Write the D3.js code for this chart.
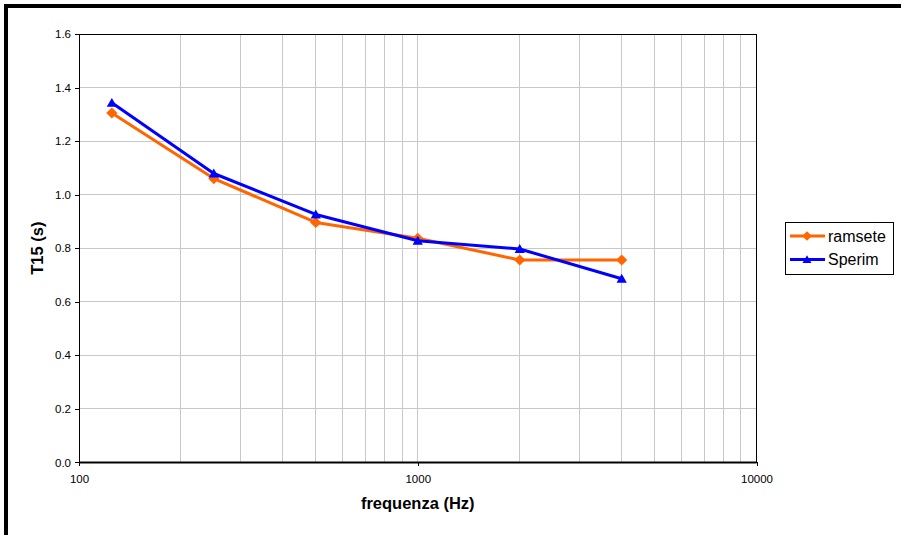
<!DOCTYPE html>
<html><head><meta charset="utf-8">
<script src="https://cdn.jsdelivr.net/npm/d3@7"></script>
<style>
html,body{margin:0;padding:0;background:#fff;}
svg{display:block;font-family:"Liberation Sans",Arial,sans-serif;}
</style></head>
<body>
<svg id="chart" width="901" height="535"></svg>
<script>
const frequencies = [125, 250, 500, 1000, 2000, 4000];
const ramsete = [1.305, 1.060, 0.896, 0.837, 0.756, 0.756];
const sperim = [1.343, 1.079, 0.926, 0.828, 0.797, 0.686];
const seriesNames = ["ramsete", "Sperim"];
const xTickLabels = [100, 1000, 10000];
const yTickLabels = [0, 0.2, 0.4, 0.6, 0.8, 1.0, 1.2, 1.4, 1.6];

const svg = d3.select("#chart");
const M = {left: 79, right: 756.5, top: 34, bottom: 462.4};

// outer frame (clipped at right/bottom)
svg.append("rect").attr("x", 6).attr("y", 6).attr("width", 960).attr("height", 600)
  .attr("fill", "none").attr("stroke", "#000").attr("stroke-width", 4);

const x = d3.scaleLog().domain([100, 10000]).range([M.left, M.right]);
const y = d3.scaleLinear().domain([0, 1.6]).range([M.bottom, M.top]);

// gridlines
const minor = [];
for (let d = 100; d < 10000; d *= 10) for (let k = 1; k < 10; k++) minor.push(d * k);
svg.append("g").selectAll("line").data(minor.filter(v => v > 100 && v < 10000)).join("line")
  .attr("x1", d => x(d)).attr("x2", d => x(d)).attr("y1", M.top).attr("y2", M.bottom)
  .attr("stroke", "#c8c8c8").attr("stroke-width", 1).attr("shape-rendering", "crispEdges");
svg.append("g").selectAll("line").data(yTickLabels.filter(v => v > 0)).join("line")
  .attr("x1", M.left).attr("x2", M.right).attr("y1", d => y(d)).attr("y2", d => y(d))
  .attr("stroke", "#c8c8c8").attr("stroke-width", 1).attr("shape-rendering", "crispEdges");

// plot border
svg.append("rect").attr("x", M.left).attr("y", M.top).attr("width", M.right - M.left).attr("height", M.bottom - M.top)
  .attr("fill", "none").attr("stroke", "#000").attr("stroke-width", 1).attr("shape-rendering", "crispEdges");

// axes
const yAxis = svg.append("g").attr("transform", `translate(${M.left},0)`)
  .call(d3.axisLeft(y).tickValues(yTickLabels).tickFormat(d3.format(".1f")).tickSize(4).tickPadding(4));
const xAxis = svg.append("g").attr("transform", `translate(0,${M.bottom})`)
  .call(d3.axisBottom(x).tickValues(xTickLabels).tickFormat(d3.format("d")).tickSize(4).tickPadding(8));
[yAxis, xAxis].forEach(a => {
  a.select(".domain").remove();
  a.selectAll("line").attr("stroke", "#000").attr("shape-rendering", "crispEdges");
  a.selectAll("text").attr("font-family", "Liberation Sans, Arial, sans-serif").attr("font-size", 11.5).attr("fill", "#000");
});
svg.append("line").attr("x1", M.left).attr("x2", M.right).attr("y1", M.bottom).attr("y2", M.bottom)
  .attr("stroke", "#000").attr("stroke-width", 2);

// axis titles
svg.append("text").attr("x", (M.left + M.right) / 2).attr("y", 509)
  .attr("text-anchor", "middle").attr("font-weight", "bold").attr("font-size", 16.5).text("frequenza (Hz)");
svg.append("text").attr("transform", `translate(43,${(M.top + M.bottom) / 2}) rotate(-90)`)
  .attr("text-anchor", "middle").attr("font-weight", "bold").attr("font-size", 16.5).text("T15 (s)");

const colors = ["#FF6600", "#0000FF"];
const data = [ramsete, sperim];
const line = d3.line().x((d, i) => x(frequencies[i])).y(d => y(d));
const diamond = d3.symbol().type(d3.symbolDiamond2).size(80);
const triangle = d3.symbol().type(d3.symbolTriangle).size(45);
const symbols = [diamond, triangle];

data.forEach((vals, s) => {
  svg.append("path").datum(vals).attr("d", line).attr("fill", "none")
    .attr("stroke", colors[s]).attr("stroke-width", 3).attr("stroke-linejoin", "round");
  svg.append("g").selectAll("path").data(vals).join("path")
    .attr("transform", (d, i) => `translate(${x(frequencies[i])},${y(d) + (s === 1 ? 1 : 0)})`)
    .attr("d", symbols[s]()).attr("fill", colors[s]);
});

// legend
const lg = svg.append("g");
lg.append("rect").attr("x", 785.5).attr("y", 222.5).attr("width", 108).attr("height", 52)
  .attr("fill", "#fff").attr("stroke", "#000").attr("stroke-width", 1);
seriesNames.forEach((name, s) => {
  const yy = 236 + s * 23.5;
  lg.append("line").attr("x1", 790).attr("x2", 825).attr("y1", yy).attr("y2", yy)
    .attr("stroke", colors[s]).attr("stroke-width", 3);
  lg.append("path").attr("transform", `translate(807,${yy + (s === 1 ? 1 : 0)})`)
    .attr("d", (s === 0 ? d3.symbol().type(d3.symbolDiamond2).size(60) : d3.symbol().type(d3.symbolTriangle).size(35))())
    .attr("fill", colors[s]);
  lg.append("text").attr("x", 828).attr("y", yy + 5.5).attr("font-size", 16).text(name);
});
</script>
</body></html>
